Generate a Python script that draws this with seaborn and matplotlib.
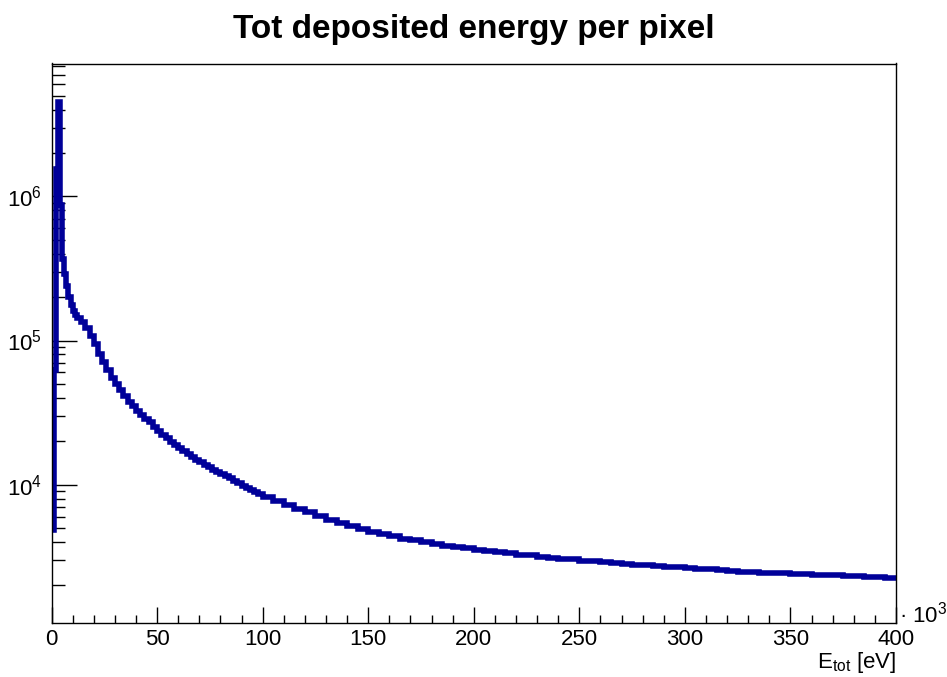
import numpy as np
import pandas as pd
import matplotlib
matplotlib.use("Agg")
import matplotlib.pyplot as plt
import matplotlib.ticker as mticker
import seaborn as sns

# bin edges (keV): 1 keV up to 12, 2 keV up to 100, 5 keV up to 400
edges_fine = [0, 1, 2, 3, 4, 5, 6, 7, 8, 9, 10, 11, 12]
edges_mid_step = 2
edges_coarse_step = 5

# counts per bin
counts_fine = [4800, 62000, 1.55e6, 4.5e6, 8.7e5, 3.7e5, 2.9e5, 2.4e5,
               2.0e5, 1.75e5, 1.6e5, 1.5e5]
counts_mid = [1.43e5, 1.35e5, 1.22e5, 1.08e5, 9.4e4, 8.1e4, 7.1e4, 6.2e4,
              5.5e4, 4.95e4, 4.5e4, 4.1e4, 3.77e4, 3.5e4, 3.26e4, 3.06e4,
              2.87e4, 2.7e4, 2.52e4, 2.37e4, 2.22e4, 2.1e4, 1.98e4, 1.88e4,
              1.78e4, 1.70e4, 1.62e4, 1.56e4, 1.48e4, 1.43e4, 1.37e4, 1.32e4,
              1.27e4, 1.23e4, 1.18e4, 1.14e4, 1.11e4, 1.06e4, 1.02e4, 9850,
              9500, 9150, 8850, 8550]
counts_coarse = [8200, 7650, 7200, 6800, 6400, 6050, 5700, 5400, 5150, 4900,
                 4700, 4520, 4370, 4220, 4100, 3980, 3870, 3770, 3690, 3610,
                 3530, 3460, 3400, 3330, 3270, 3220, 3160, 3110, 3060, 3020,
                 2970, 2930, 2880, 2850, 2815, 2780, 2750, 2720, 2695, 2660,
                 2630, 2600, 2575, 2550, 2520, 2490, 2470, 2445, 2430, 2415,
                 2400, 2385, 2370, 2355, 2345, 2330, 2310, 2290, 2265, 2230]

x_ticks = [0, 50, 100, 150, 200, 250, 300, 350, 400]
title = "Tot deposited energy per pixel"
line_color = "#000099"

edges = np.concatenate([
    np.array(edges_fine, dtype=float),
    np.arange(12 + edges_mid_step, 100 + 1, edges_mid_step),
    np.arange(100 + edges_coarse_step, 400 + 1, edges_coarse_step),
])
counts = counts_fine + counts_mid + counts_coarse
centers = 0.5 * (edges[:-1] + edges[1:])
df = pd.DataFrame({"energy": centers, "counts": counts})

sns.set_style("ticks")
plt.rcParams["font.family"] = ["Liberation Sans", "DejaVu Sans"]
plt.rcParams["mathtext.default"] = "regular"
plt.rcParams["text.color"] = "black"
plt.rcParams["xtick.color"] = "black"
plt.rcParams["ytick.color"] = "black"
plt.rcParams["xtick.labelcolor"] = "black"
plt.rcParams["ytick.labelcolor"] = "black"

fig = plt.figure(figsize=(9.47, 6.77), dpi=100)
ax = fig.add_axes([51.5 / 947, 1 - 622.5 / 677, (896 - 51.5) / 947, (622.5 - 63.5) / 677])

sns.histplot(data=df, x="energy", weights="counts", bins=edges.tolist(),
             element="step", fill=False, color=line_color, linewidth=4.0,
             solid_joinstyle="miter", solid_capstyle="butt", ax=ax)

ax.set_yscale("log")
ax.set_xlim(0, 400)
ax.set_ylim(1103, 8.37e6)

ax.set_xticks(x_ticks)
ax.set_xticklabels([str(t) for t in x_ticks])
ax.xaxis.set_minor_locator(mticker.MultipleLocator(10))
ax.yaxis.set_major_locator(mticker.LogLocator(base=10, numticks=10))
ax.yaxis.set_minor_locator(mticker.LogLocator(base=10, subs=np.arange(2, 10), numticks=20))
ax.yaxis.set_major_formatter(mticker.LogFormatterMathtext())
ax.yaxis.set_minor_formatter(mticker.NullFormatter())

ax.tick_params(axis="x", which="major", direction="in", length=11.5, width=1,
               labelsize=16, pad=5, top=False)
ax.tick_params(axis="x", which="minor", direction="in", length=5.8, width=1, top=False)
ax.tick_params(axis="y", which="major", direction="in", length=18, width=1,
               labelsize=16, pad=7, right=False)
ax.tick_params(axis="y", which="minor", direction="in", length=9, width=1, right=False)

for side in ["top", "right", "bottom", "left"]:
    ax.spines[side].set_visible(True)
    ax.spines[side].set_linewidth(1)
    ax.spines[side].set_color("black")

ax.set_xlabel("")
ax.set_ylabel("")

fig.text(473.5 / 947, 1 - 38 / 677, title, ha="center", va="baseline",
         fontsize=24, fontweight="bold", color="black")
fig.text(896 / 947, 1 - 668 / 677, "E$_{tot}$ [eV]", ha="right", va="baseline",
         fontsize=16, color="black")
fig.text(899 / 947, 1 - 623 / 677, "· 10$^{3}$", ha="left", va="baseline",
         fontsize=16, color="black")

fig.savefig("out.png", dpi=100)
